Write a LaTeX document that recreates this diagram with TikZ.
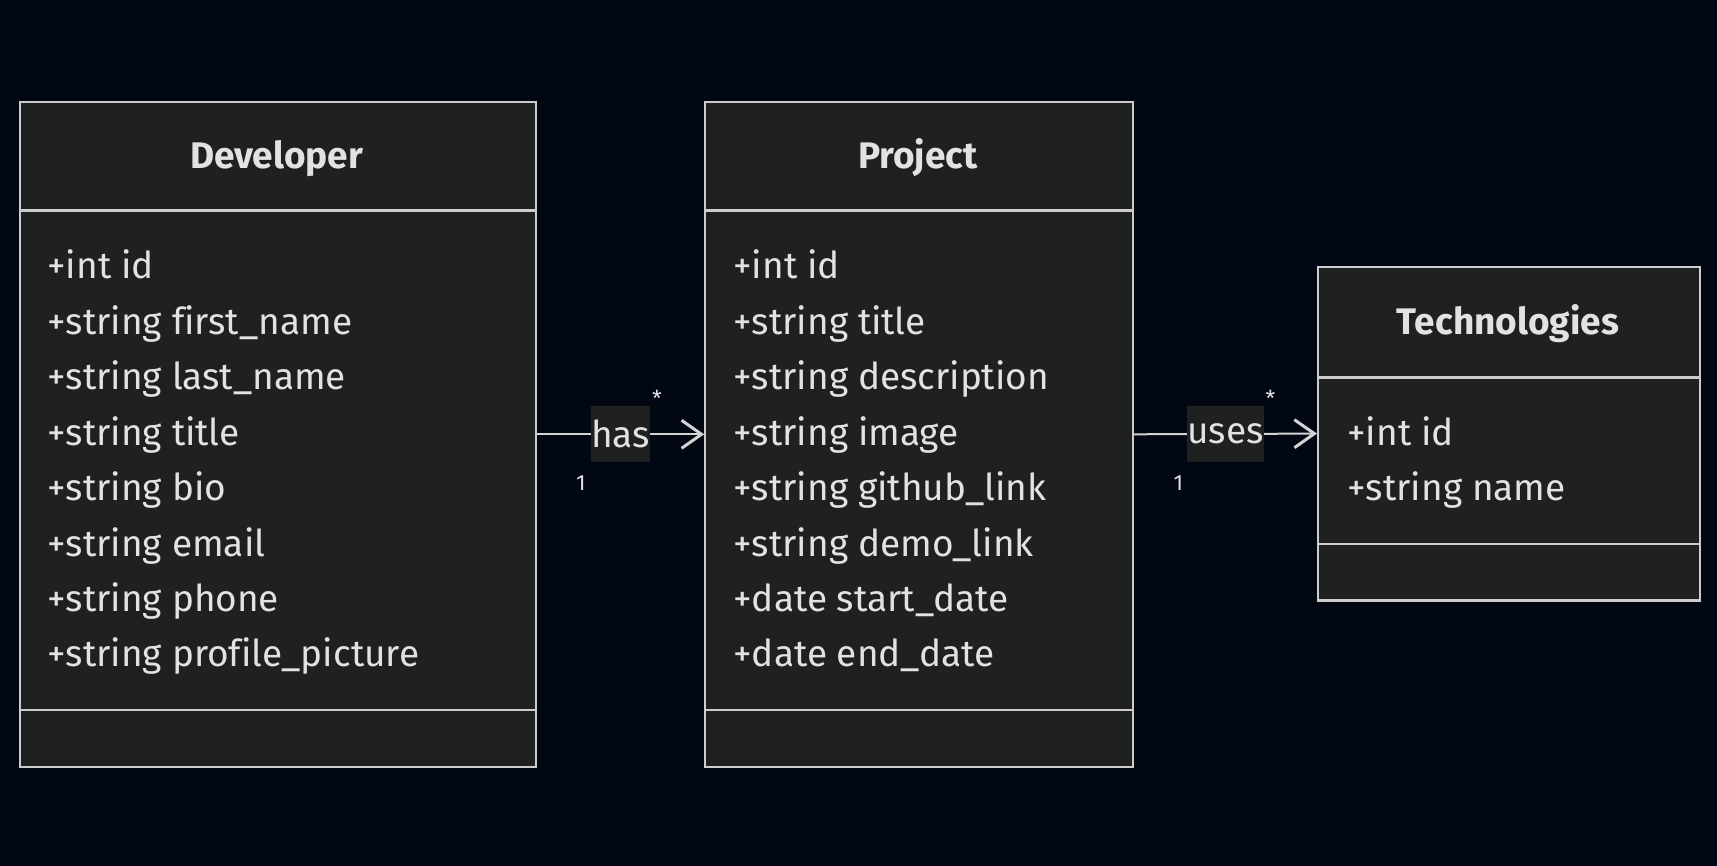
\documentclass[tikz,border=0pt]{standalone}
\usepackage{fontspec}
\setmainfont{Fira Sans}[Ligatures=NoCommon]
\usetikzlibrary{arrows.meta}
\definecolor{bgc}{HTML}{020714}
\definecolor{boxfill}{HTML}{1F2020}
\definecolor{boxline}{HTML}{CCCCCC}
\definecolor{txt}{HTML}{E2E2E2}
\definecolor{edgec}{HTML}{D3D3D3}
\tikzset{
  classbox/.style={draw=boxline, fill=boxfill, line width=2.2pt, rectangle, inner sep=0pt, anchor=north west},
  divider/.style={draw=boxline, line width=2.2pt},
  attr/.style={text=txt, anchor=base west, inner sep=0pt, font=\fontsize{37}{44}\selectfont},
  ctitle/.style={text=txt, anchor=base, inner sep=0pt, font=\fontsize{37}{44}\selectfont\bfseries},
  edge/.style={draw=edgec, line width=2pt, -{Straight Barb[length=20pt,width=28pt,line width=3pt]}},
  elabel/.style={fill=boxfill, text=txt, inner sep=0pt, minimum width=56pt, minimum height=56pt, font=\fontsize{37}{44}\selectfont},
  mult/.style={text=txt, inner sep=0pt, font=\fontsize{22}{26}\selectfont}
}
\begin{document}
\begin{tikzpicture}[x=1pt,y=-1pt]
\fill[bgc] (0,0) rectangle (1717,866);
\useasboundingbox (0,0) rectangle (1717,866);

% Developer
\node[classbox, minimum width=516pt, minimum height=665pt] (dev) at (18.6,100.7) {};
\draw[divider] (18.6,210.5) -- (534.6,210.5);
\draw[divider] (18.6,709.8) -- (534.6,709.8);
\node[ctitle] (devt) at (276.6,168.5) {Developer};
\node[attr] (d1) at (47.3,279) {+int id};
\node[attr] (d2) at (47.3,334.4) {+string first\_name};
\node[attr] (d3) at (47.3,389.8) {+string last\_name};
\node[attr] (d4) at (47.3,445.2) {+string title};
\node[attr] (d5) at (47.3,500.6) {+string bio};
\node[attr] (d6) at (47.3,556.0) {+string email};
\node[attr] (d7) at (47.3,611.4) {+string phone};
\node[attr] (d8) at (47.3,666.8) {+string profile\_picture};

% Project
\node[classbox, minimum width=427.6pt, minimum height=665pt] (proj) at (704.2,100.7) {};
\draw[divider] (704.2,210.5) -- (1131.8,210.5);
\draw[divider] (704.2,709.8) -- (1131.8,709.8);
\node[ctitle] (projt) at (918,168.5) {Project};
\node[attr] (p1) at (733.3,279) {+int id};
\node[attr] (p2) at (733.3,334.4) {+string title};
\node[attr] (p3) at (733.3,389.8) {+string description};
\node[attr] (p4) at (733.3,445.2) {+string image};
\node[attr] (p5) at (733.3,500.6) {+string github\_link};
\node[attr] (p6) at (733.3,556.0) {+string demo\_link};
\node[attr] (p7) at (733.3,611.4) {+date start\_date};
\node[attr] (p8) at (733.3,666.8) {+date end\_date};

% Technologies
\node[classbox, minimum width=381.8pt, minimum height=333.6pt] (tech) at (1317,265.7) {};
\draw[divider] (1317,377.5) -- (1698.8,377.5);
\draw[divider] (1317,543.8) -- (1698.8,543.8);
\node[ctitle] (techt) at (1507.9,334.5) {Technologies};
\node[attr] (t1) at (1347.3,445.2) {+int id};
\node[attr] (t2) at (1347.3,500.4) {+string name};

% Edges
\draw[edge] (dev.east) -- (proj.west) node[elabel, pos=0.5] (has) {has};
\draw[edge] (proj.east) -- (tech.west) node[elabel, pos=0.5, minimum width=69pt] (uses) {uses};
\node[mult] (m1a) at (581,483) {1};
\node[mult] (m1b) at (657,398) {*};
\node[mult] (m2a) at (1178.3,483) {1};
\node[mult] (m2b) at (1270.4,398) {*};
\end{tikzpicture}
\end{document}
